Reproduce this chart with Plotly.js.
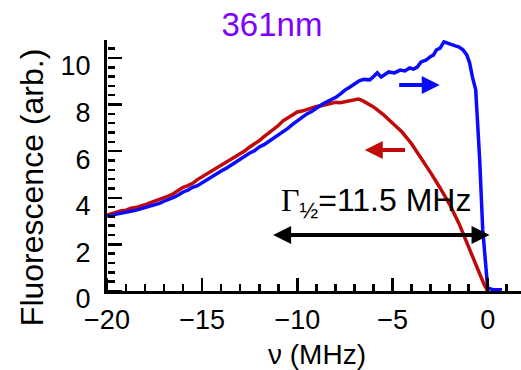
<!DOCTYPE html>
<html>
<head>
<meta charset="utf-8">
<script src="https://cdn.plot.ly/plotly-3.0.1.min.js"></script>
<style>html,body{margin:0;padding:0;background:#fff;}#chart{width:521px;height:370px;}</style>
</head>
<body>
<div id="chart"></div>
<script>
// Red sweep (toward negative detuning)
const redX = [-20.0,-19.75,-19.5,-19.25,-19.0,-18.75,-18.5,-18.25,-18.0,-17.75,-17.5,-17.25,-17.0,-16.75,-16.5,-16.25,-16.0,-15.75,-15.5,-15.25,-15.0,-14.75,-14.5,-14.25,-14.0,-13.75,-13.5,-13.25,-13.0,-12.75,-12.5,-12.25,-12.0,-11.75,-11.5,-11.25,-11.0,-10.75,-10.5,-10.25,-10.0,-9.75,-9.5,-9.25,-9.0,-8.75,-8.5,-8.25,-8.0,-7.75,-7.5,-7.25,-7.0,-6.8,-6.6,-6.4,-6.0,-5.5,-5.0,-4.5,-4.0,-3.5,-3.0,-2.5,-2.0,-1.5,-1.0,-0.5,-0.2,0.0];
const redY = [3.26,3.33,3.38,3.44,3.47,3.55,3.58,3.66,3.70,3.78,3.85,3.90,3.98,4.08,4.18,4.32,4.45,4.52,4.62,4.78,4.90,5.03,5.15,5.30,5.40,5.50,5.62,5.78,5.90,6.02,6.18,6.30,6.45,6.62,6.78,6.90,7.10,7.30,7.42,7.55,7.68,7.72,7.80,7.86,7.92,7.95,8.00,8.06,8.10,8.08,8.12,8.16,8.22,8.24,8.18,8.10,7.90,7.58,7.22,6.82,6.32,5.72,5.08,4.42,3.72,2.88,1.90,0.85,0.30,0.0];
// Blue sweep (toward positive detuning)
const blueX = [-20.0,-19.75,-19.5,-19.25,-19.0,-18.75,-18.5,-18.25,-18.0,-17.75,-17.5,-17.25,-17.0,-16.75,-16.5,-16.25,-16.0,-15.75,-15.5,-15.25,-15.0,-14.75,-14.5,-14.25,-14.0,-13.75,-13.5,-13.25,-13.0,-12.75,-12.5,-12.25,-12.0,-11.75,-11.5,-11.25,-11.0,-10.75,-10.5,-10.25,-10.0,-9.75,-9.5,-9.25,-9.0,-8.75,-8.5,-8.25,-8.0,-7.75,-7.5,-7.25,-7.0,-6.75,-6.5,-6.2,-6.0,-5.8,-5.6,-5.4,-5.2,-4.9,-4.6,-4.35,-4.1,-3.9,-3.7,-3.5,-3.25,-3.0,-2.85,-2.7,-2.5,-2.3,-2.1,-1.9,-1.7,-1.5,-1.3,-1.1,-0.95,-0.8,-0.63,-0.53,-0.42,-0.26,-0.05,0.0,0.3,0.75];
const blueY = [3.22,3.24,3.30,3.33,3.38,3.42,3.46,3.52,3.58,3.62,3.70,3.76,3.85,3.92,4.02,4.12,4.25,4.33,4.45,4.52,4.65,4.78,4.92,5.02,5.15,5.26,5.40,5.50,5.65,5.78,5.92,6.02,6.18,6.28,6.42,6.55,6.68,6.85,6.98,7.15,7.30,7.45,7.60,7.70,7.85,7.98,8.10,8.18,8.30,8.45,8.62,8.74,8.90,9.02,9.08,9.06,9.20,9.36,9.18,9.30,9.40,9.36,9.48,9.44,9.57,9.52,9.61,9.83,9.90,10.06,10.12,10.34,10.42,10.69,10.62,10.58,10.52,10.47,10.35,10.13,9.79,9.18,8.63,7.21,5.62,2.62,0.47,0.13,0.05,0.05];

const xRange = [-20, 1.75];
const yRange = [0, 10.77];
const titleText = '361nm';
const xTitle = '\u03bd (MHz)';
const yTitle = 'Fluorescence (arb.)';
const widthLabel = '<span style="font-family:\'Liberation Serif\'">\u0393</span><sub>\u00bd</sub>=11.5 MHz';
// Annotation anchor values (data units)
const blueArrow = {head: [-2.52, 8.84], tail: [-4.73, 8.84]};
const redArrow = {head: [-6.46, 6.05], tail: [-4.26, 6.05]};
const widthArrow = {head: [0.1, 2.40], tail: [-11.35, 2.40]};
const labelPos = [-5.85, 3.78];

const FONT = 'Liberation Sans, Arial, sans-serif';
const BLUE = '#0a0aff';
const RED = '#c00a0a';

const traces = [
  {x: redX, y: redY, mode: 'lines', line: {color: RED, width: 3.5}, hoverinfo: 'skip'},
  {x: blueX, y: blueY, mode: 'lines', line: {color: BLUE, width: 3.5}, hoverinfo: 'skip'},
  // empty trace so the inward-tick helper axes are drawn
  {x: [], y: [], xaxis: 'x2', yaxis: 'y2', mode: 'lines', hoverinfo: 'skip'}
];

function arrow(a, color, both) {
  return {
    x: a.head[0], y: a.head[1], ax: a.tail[0], ay: a.tail[1],
    xref: 'x', yref: 'y', axref: 'x', ayref: 'y',
    text: '', showarrow: true, arrowhead: 2, arrowsize: 0.9, arrowwidth: 4,
    arrowcolor: color, arrowside: both ? 'end+start' : 'end', standoff: 0, startstandoff: 0
  };
}

const tickStyle = {tickcolor: '#000', tickwidth: 2.5};

const layout = {
  width: 521, height: 370,
  margin: {l: 107, r: 0, t: 40, b: 79, pad: 0},
  paper_bgcolor: '#fff', plot_bgcolor: 'rgba(0,0,0,0)',
  showlegend: false,
  font: {family: FONT, color: '#000'},
  title: {text: titleText, font: {family: FONT, size: 33, color: '#7f00ff'},
          x: 0.522, xanchor: 'center', xref: 'container', y: 0.935, yanchor: 'middle', yref: 'container'},
  xaxis: {
    range: xRange, showgrid: false, zeroline: false,
    showline: true, linecolor: '#000', linewidth: 3,
    ticks: '', dtick: 5, tick0: 0,
    tickfont: {family: FONT, size: 27, color: '#000'},
    ticklabelstandoff: 3
  },
  yaxis: {
    range: yRange, showgrid: false, zeroline: false,
    showline: true, linecolor: '#000', linewidth: 3,
    ticks: '', dtick: 2, tick0: 0,
    tickfont: {family: FONT, size: 27, color: '#000'},
    ticklabelstandoff: 8, ticklabelshift: 8
  },
  // helper axes: "outside" ticks of these point into the plot area
  xaxis2: Object.assign({
    overlaying: 'x', side: 'top', anchor: 'free', position: 0,
    range: xRange, showgrid: false, zeroline: false, showline: false, showticklabels: false,
    ticks: 'outside', ticklen: 13, dtick: 5, tick0: 0,
    minor: Object.assign({dtick: 1, ticks: 'outside', ticklen: 7, showgrid: false}, tickStyle)
  }, tickStyle),
  yaxis2: Object.assign({
    overlaying: 'y', side: 'right', anchor: 'free', position: 0,
    range: yRange, showgrid: false, zeroline: false, showline: false, showticklabels: false,
    ticks: 'outside', ticklen: 14, dtick: 2, tick0: 0,
    minor: Object.assign({dtick: 0.4, ticks: 'outside', ticklen: 7, showgrid: false}, tickStyle)
  }, tickStyle),
  annotations: [
    {text: yTitle, xref: 'paper', yref: 'paper', x: -0.181, y: 0.41, textangle: -90,
     showarrow: false, xanchor: 'center', yanchor: 'middle', font: {family: FONT, size: 32, color: '#000'}},
    {text: xTitle, xref: 'paper', yref: 'paper', x: 0.507, y: -0.252,
     showarrow: false, xanchor: 'center', yanchor: 'middle', font: {family: FONT, size: 28, color: '#000'}},
    {text: widthLabel, xref: 'x', yref: 'y', x: labelPos[0], y: labelPos[1],
     showarrow: false, xanchor: 'center', yanchor: 'middle', font: {family: FONT, size: 32, color: '#000'}},
    arrow(blueArrow, BLUE, false),
    arrow(redArrow, RED, false),
    arrow(widthArrow, '#000', true)
  ]
};

Plotly.newPlot('chart', traces, layout, {staticPlot: true, displayModeBar: false});
</script>
</body>
</html>
